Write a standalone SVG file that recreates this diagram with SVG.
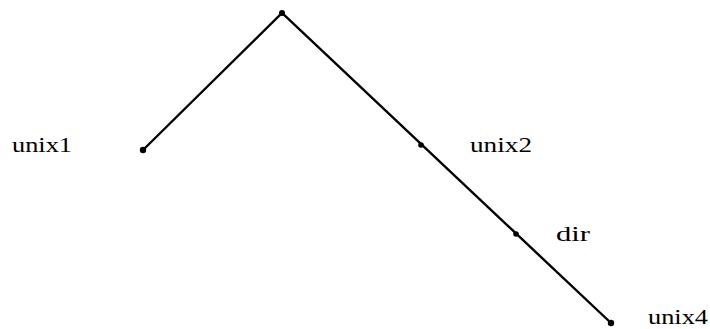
<svg xmlns="http://www.w3.org/2000/svg" width="710" height="329" viewBox="0 0 710 329">
<style>
.l{stroke:#000;stroke-width:2.4;fill:none;stroke-linecap:round}
.d{fill:#000}
.t{font-family:"Liberation Serif","DejaVu Serif",serif;font-size:22px;fill:#000}
</style>
<rect width="710" height="329" fill="#fff"/>
<g id="connectors">
<path class="l" d="M143,150 L282,13 L611,323"/>
</g>
<g id="top"><circle class="d" cx="282" cy="13" r="3"/></g>
<g id="unix1"><circle class="d" cx="143" cy="150" r="3.2"/><text class="t" x="12" y="152" textLength="60" lengthAdjust="spacingAndGlyphs">unix1</text></g>
<g id="unix2"><circle class="d" cx="421" cy="145" r="2.8"/><text class="t" x="470" y="152" textLength="62" lengthAdjust="spacingAndGlyphs">unix2</text></g>
<g id="dir"><circle class="d" cx="516" cy="234" r="2.8"/><text class="t" x="556" y="241" textLength="34" lengthAdjust="spacingAndGlyphs">dir</text></g>
<g id="unix4"><circle class="d" cx="611" cy="323" r="3.2"/><text class="t" x="648" y="324" textLength="60" lengthAdjust="spacingAndGlyphs">unix4</text></g>
</svg>
